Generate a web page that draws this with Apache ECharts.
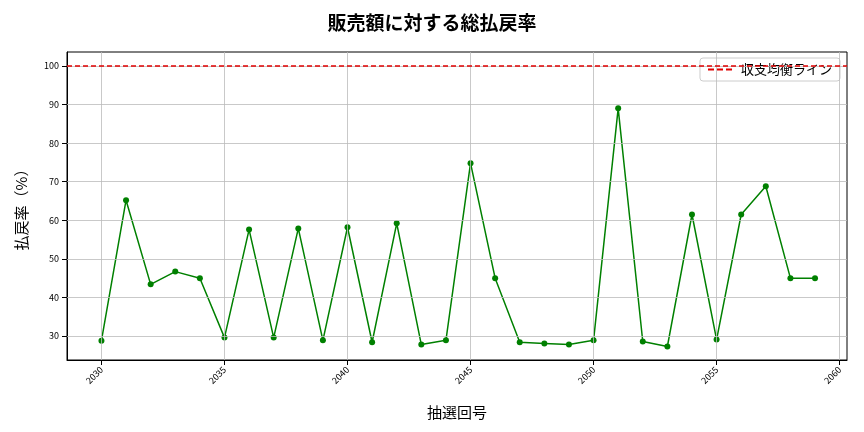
<!DOCTYPE html>
<html><head><meta charset="utf-8">
<script src="https://cdn.jsdelivr.net/npm/echarts@6/dist/echarts.min.js"></script>
<style>html,body{margin:0;padding:0;background:#fff}#c{width:864px;height:432px}</style>
</head><body><div id="c"></div>
<script>
// 抽選回号と払戻率
const draws = [2030,2031,2032,2033,2034,2035,2036,2037,2038,2039,2040,2041,2042,2043,2044,
  2045,2046,2047,2048,2049,2050,2051,2052,2053,2054,2055,2056,2057,2058,2059]
const payoutRate = [28.8,65.2,43.4,46.7,45.0,29.6,57.6,29.6,57.9,28.9,58.2,28.4,59.2,27.8,28.9,
  74.8,45.0,28.4,28.1,27.8,28.9,89.0,28.6,27.3,61.5,29.1,61.5,68.8,45.0,45.0]
const xTicks = [2030,2035,2040,2045,2050,2055,2060]
const yTicks = [30,40,50,60,70,80,90,100]
const breakEven = 100

let font = '"Noto Sans CJK JP", sans-serif'
let chart = echarts.init(document.getElementById('c'))
chart.setOption({
  animation:false,
  textStyle:{fontFamily:font},
  title:{text:'販売額に対する総払戻率',left:'center',top:8,
    textStyle:{fontSize:19,fontWeight:'bold',color:'#000',fontFamily:font}},
  grid:{left:67,right:17,top:52,bottom:72,show:true,borderColor:'#000',borderWidth:1},
  legend:{right:24,top:58,data:[{name:'収支均衡ライン',icon:'path://M0,0h6v2h-6zM9,0h6v2h-6zM18,0h6v2h-6z'}],
    itemWidth:24,itemHeight:2,itemGap:8,textStyle:{fontSize:13,color:'#000',padding:[0,0,0,4]},
    borderColor:'#ccc',borderWidth:1,borderRadius:3,padding:[5,8],backgroundColor:'#fff'},
  xAxis:{type:'value',min:2028.6,max:2060.3,name:'抽選回号',nameLocation:'middle',nameGap:45,
    nameTextStyle:{fontSize:15,color:'#000'},
    axisLine:{lineStyle:{color:'#000'}},
    axisTick:{customValues:xTicks,lineStyle:{color:'#000'}},
    axisLabel:{customValues:xTicks,rotate:45,fontSize:9,color:'#000',formatter:v=>String(Math.round(v))},
    splitLine:{show:false}},
  yAxis:{type:'value',min:23.8,max:103.6,name:'払戻率（%）',nameLocation:'middle',nameGap:38,
    nameTextStyle:{fontSize:15,color:'#000'},
    axisLine:{show:true,lineStyle:{color:'#000'}},
    axisTick:{show:true,customValues:yTicks,lineStyle:{color:'#000'}},
    axisLabel:{customValues:yTicks,fontSize:9,color:'#000'},
    splitLine:{show:false}},
  series:[
    {name:'払戻率',type:'line',data:draws.map((d,i)=>[d,payoutRate[i]]),
      symbol:'circle',symbolSize:6,itemStyle:{color:'#008000'},lineStyle:{color:'#008000',width:1.5},
      markLine:{silent:true,symbol:'none',label:{show:false},
        lineStyle:{color:'#bbb',width:0.8,type:'solid'},
        data:xTicks.filter(v=>v<2060.3).map(v=>({xAxis:v})).concat(yTicks.map(v=>({yAxis:v})))}},
    {name:'収支均衡ライン',type:'line',data:[],itemStyle:{color:'#e00000'},
      markLine:{silent:true,symbol:'none',label:{show:false},
        lineStyle:{color:'#e00000',width:1.5,type:[5,3]},data:[{yAxis:breakEven}]}}
  ]
})
</script></body></html>
